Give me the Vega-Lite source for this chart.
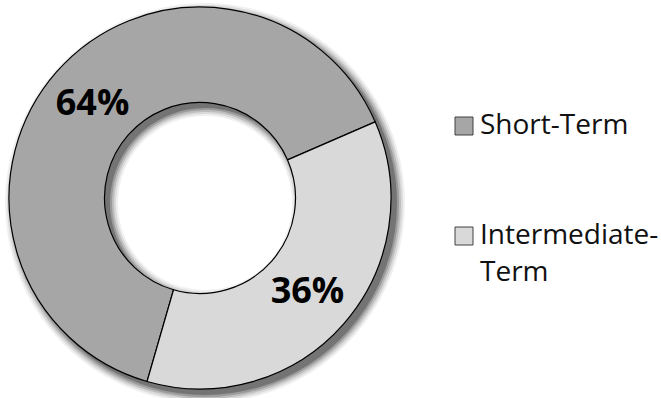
{
  "$schema": "https://vega.github.io/schema/vega-lite/v6.json",
  "width": 400,
  "height": 396,
  "autosize": {"type": "none"},
  "padding": {"left": 0, "top": 0, "right": 261, "bottom": 2},
  "background": "white",
  "config": {"view": {"stroke": null}, "font": "Open Sans", "style": {"guide-label": {"lineHeight": 37}}},
  "data": {"values": [
    {"term": "Short-Term", "value": 64, "label": "64%"},
    {"term": "Intermediate-Term", "value": 36, "label": "36%"}
  ]},
  "encoding": {
    "theta": {"field": "value", "type": "quantitative", "stack": true, "scale": {"range": [1.1606, 7.4438]}},
    "order": {"field": "value", "type": "quantitative", "sort": "ascending"}
  },
  "layer": [
    {"mark": {"type": "arc", "radius": 200, "radius2": 87, "theta": 0, "theta2": 6.2832, "fill": "#000", "opacity": 0.06, "xOffset": 5, "yOffset": 5}, "encoding": {}},
    {"mark": {"type": "arc", "radius": 198, "radius2": 89, "theta": 0, "theta2": 6.2832, "fill": "#000", "opacity": 0.09, "xOffset": 5, "yOffset": 5}, "encoding": {}},
    {"mark": {"type": "arc", "radius": 196, "radius2": 91, "theta": 0, "theta2": 6.2832, "fill": "#000", "opacity": 0.13, "xOffset": 5, "yOffset": 5}, "encoding": {}},
    {"mark": {"type": "arc", "radius": 194, "radius2": 93, "theta": 0, "theta2": 6.2832, "fill": "#000", "opacity": 0.18, "xOffset": 5, "yOffset": 5}, "encoding": {}},
    {"mark": {"type": "arc", "radius": 192, "radius2": 95, "theta": 0, "theta2": 6.2832, "fill": "#000", "opacity": 0.25, "xOffset": 5, "yOffset": 5}, "encoding": {}},
    {
      "mark": {"type": "arc", "radius": 191, "radius2": 95.5, "stroke": "#000", "strokeWidth": 1.2},
      "encoding": {
        "color": {
          "field": "term", "type": "nominal",
          "scale": {"domain": ["Short-Term", "Intermediate-Term"], "range": ["#a6a6a6", "#d9d9d9"]},
          "legend": {
            "title": null,
            "orient": "none",
            "legendX": 450,
            "legendY": 112,
            "padding": 0,
            "symbolType": "square",
            "symbolSize": 324,
            "symbolStrokeColor": "#404040",
            "symbolStrokeWidth": 1,
            "labelFont": "Open Sans",
            "labelFontSize": 28,
            "labelColor": "#111",
            "labelOffset": 2,
            "labelLimit": 300,
            "rowPadding": 82,
            "labelExpr": "datum.label == 'Intermediate-Term' ? ['Intermediate-', 'Term'] : datum.label"
          }
        }
      }
    },
    {
      "mark": {"type": "text", "radius": 143, "font": "Open Sans", "fontSize": 36, "fontWeight": "bold", "color": "#000"},
      "encoding": {"text": {"field": "label", "type": "nominal"}}
    }
  ]
}
